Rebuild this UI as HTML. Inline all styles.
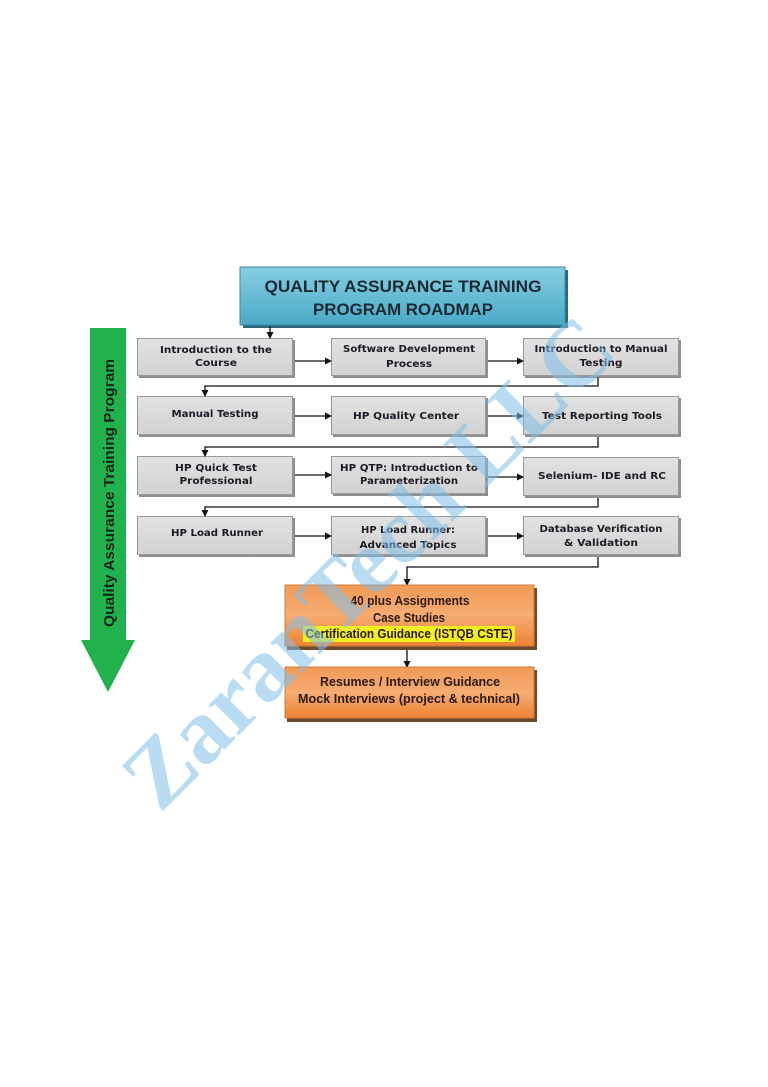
<!DOCTYPE html>
<html><head><meta charset="utf-8"><style>
html,body{margin:0;padding:0;background:#fff;}
svg{display:block;}
</style></head><body>
<svg width="768" height="1087" viewBox="0 0 768 1087" xmlns="http://www.w3.org/2000/svg">
<defs>
<linearGradient id="tg" x1="0" y1="0" x2="0" y2="1"><stop offset="0" stop-color="#86cfe3"/><stop offset="1" stop-color="#4aa9c6"/></linearGradient>
<linearGradient id="gg" x1="0" y1="0" x2="0" y2="1"><stop offset="0" stop-color="#e2e2e2"/><stop offset="1" stop-color="#d2d2d2"/></linearGradient>
<linearGradient id="og" x1="0" y1="0" x2="0" y2="1"><stop offset="0" stop-color="#f29a56"/><stop offset="0.5" stop-color="#f6ac72"/><stop offset="1" stop-color="#ec8434"/></linearGradient>
<marker id="ah" markerWidth="7" markerHeight="7" refX="6" refY="3.5" orient="auto" markerUnits="userSpaceOnUse"><path d="M0,0 L7,3.5 L0,7 z" fill="#111"/></marker>
</defs>

<!-- green arrow -->
<rect x="90" y="328" width="36" height="313" fill="#21b24e"/>
<polygon points="81,640 135,640 108,692" fill="#21b24e"/>
<text transform="translate(114,493) rotate(-90)" text-anchor="middle" font-family="Liberation Sans, sans-serif" font-weight="bold" font-size="15" fill="#10241a" textLength="268" lengthAdjust="spacingAndGlyphs">Quality Assurance Training Program</text>

<!-- title -->
<rect x="243" y="270" width="325" height="58" fill="#2b6a7e"/>
<rect x="240" y="267" width="325" height="58" fill="url(#tg)" stroke="#3d8aa3" stroke-width="1"/>
<text x="403" y="292" text-anchor="middle" font-family="Liberation Sans, sans-serif" font-weight="bold" font-size="17" fill="#1a2a33" textLength="277" lengthAdjust="spacingAndGlyphs">QUALITY ASSURANCE TRAINING</text>
<text x="403" y="315" text-anchor="middle" font-family="Liberation Sans, sans-serif" font-weight="bold" font-size="17" fill="#1a2a33" textLength="180" lengthAdjust="spacingAndGlyphs">PROGRAM ROADMAP</text>

<!-- gray boxes -->
<g fill="#8f8f8f">
<rect x="139" y="340" width="156" height="38"/><rect x="333" y="340" width="155" height="38"/><rect x="525" y="340" width="156" height="38"/>
<rect x="139" y="398" width="156" height="39"/><rect x="333" y="398" width="155" height="39"/><rect x="525" y="398" width="156" height="39"/>
<rect x="139" y="458" width="156" height="39"/><rect x="333" y="458" width="155" height="38"/><rect x="525" y="459" width="156" height="39"/>
<rect x="139" y="518" width="156" height="39"/><rect x="333" y="518" width="155" height="39"/><rect x="525" y="518" width="156" height="39"/>
</g>
<g fill="url(#gg)" stroke="#9a9a9a" stroke-width="1">
<rect x="137.5" y="338.5" width="155" height="37"/><rect x="331.5" y="338.5" width="154" height="37"/><rect x="523.5" y="338.5" width="155" height="37"/>
<rect x="137.5" y="396.5" width="155" height="38"/><rect x="331.5" y="396.5" width="154" height="38"/><rect x="523.5" y="396.5" width="155" height="38"/>
<rect x="137.5" y="456.5" width="155" height="38"/><rect x="331.5" y="456.5" width="154" height="37"/><rect x="523.5" y="457.5" width="155" height="38"/>
<rect x="137.5" y="516.5" width="155" height="38"/><rect x="331.5" y="516.5" width="154" height="38"/><rect x="523.5" y="516.5" width="155" height="38"/>
</g>

<!-- connectors -->
<g stroke="#111" stroke-width="1.3" fill="none">
<line x1="270" y1="326" x2="270" y2="338" marker-end="url(#ah)"/>
<line x1="295" y1="361" x2="331" y2="361" marker-end="url(#ah)"/>
<line x1="488" y1="361" x2="523" y2="361" marker-end="url(#ah)"/>
<line x1="295" y1="416" x2="331" y2="416" marker-end="url(#ah)"/>
<line x1="488" y1="416" x2="523" y2="416" marker-end="url(#ah)"/>
<line x1="295" y1="475" x2="331" y2="475" marker-end="url(#ah)"/>
<line x1="488" y1="477" x2="523" y2="477" marker-end="url(#ah)"/>
<line x1="295" y1="536" x2="331" y2="536" marker-end="url(#ah)"/>
<line x1="488" y1="536" x2="523" y2="536" marker-end="url(#ah)"/>
<polyline points="598,377 598,386 205,386 205,396" marker-end="url(#ah)"/>
<polyline points="598,437 598,447 205,447 205,456" marker-end="url(#ah)"/>
<polyline points="598,498 598,507 205,507 205,516" marker-end="url(#ah)"/>
<polyline points="598,557 598,567 407,567 407,585" marker-end="url(#ah)"/>
<line x1="407" y1="648" x2="407" y2="667" marker-end="url(#ah)"/>
</g>

<!-- gray box text -->
<g font-family="DejaVu Sans, sans-serif" font-weight="bold" font-size="10" fill="#1e1a26" text-anchor="middle">
<text x="216" y="353" textLength="112" lengthAdjust="spacingAndGlyphs">Introduction to the</text>
<text x="216" y="366" textLength="42" lengthAdjust="spacingAndGlyphs">Course</text>
<text x="409" y="352" textLength="132" lengthAdjust="spacingAndGlyphs">Software Development</text>
<text x="409" y="367" textLength="46" lengthAdjust="spacingAndGlyphs">Process</text>
<text x="601" y="352" textLength="133" lengthAdjust="spacingAndGlyphs">Introduction to Manual</text>
<text x="601" y="366" textLength="43" lengthAdjust="spacingAndGlyphs">Testing</text>
<text x="215" y="417" textLength="87" lengthAdjust="spacingAndGlyphs">Manual Testing</text>
<text x="406" y="419" textLength="106" lengthAdjust="spacingAndGlyphs">HP Quality Center</text>
<text x="602" y="419" textLength="120" lengthAdjust="spacingAndGlyphs">Test Reporting Tools</text>
<text x="216" y="471" textLength="82" lengthAdjust="spacingAndGlyphs">HP Quick Test</text>
<text x="216" y="484" textLength="73" lengthAdjust="spacingAndGlyphs">Professional</text>
<text x="409" y="471" textLength="138" lengthAdjust="spacingAndGlyphs">HP QTP: Introduction to</text>
<text x="409" y="484" textLength="98" lengthAdjust="spacingAndGlyphs">Parameterization</text>
<text x="602" y="479" textLength="128" lengthAdjust="spacingAndGlyphs">Selenium- IDE and RC</text>
<text x="217" y="536" textLength="92" lengthAdjust="spacingAndGlyphs">HP Load Runner</text>
<text x="408" y="533" textLength="94" lengthAdjust="spacingAndGlyphs">HP Load Runner:</text>
<text x="408" y="548" textLength="97" lengthAdjust="spacingAndGlyphs">Advanced Topics</text>
<text x="601" y="532" textLength="123" lengthAdjust="spacingAndGlyphs">Database Verification</text>
<text x="601" y="546" textLength="74" lengthAdjust="spacingAndGlyphs">&amp; Validation</text>
</g>

<!-- orange boxes -->
<rect x="287" y="588" width="250" height="62" fill="#6e4a2c"/>
<rect x="285" y="585" width="249" height="61" fill="url(#og)" stroke="#d27a3a" stroke-width="1"/>
<rect x="303" y="626" width="212" height="16" fill="#f4f020"/>
<rect x="287" y="670" width="250" height="52" fill="#6e4a2c"/>
<rect x="285" y="667" width="249" height="51" fill="url(#og)" stroke="#d27a3a" stroke-width="1"/>
<g font-family="Liberation Sans, sans-serif" font-weight="bold" font-size="12.5" fill="#2a1a10" text-anchor="middle">
<text x="410" y="605" textLength="119" lengthAdjust="spacingAndGlyphs">40 plus Assignments</text>
<text x="409" y="622" textLength="72" lengthAdjust="spacingAndGlyphs">Case Studies</text>
<text x="409" y="638" textLength="207" lengthAdjust="spacingAndGlyphs">Certification Guidance (ISTQB CSTE)</text>
<text x="410" y="686" textLength="180" lengthAdjust="spacingAndGlyphs">Resumes / Interview Guidance</text>
<text x="409" y="703" textLength="222" lengthAdjust="spacingAndGlyphs">Mock Interviews (project &amp; technical)</text>
</g>

<!-- watermark -->
<text transform="translate(160,814) rotate(-45)" font-family="Liberation Serif, serif" font-weight="bold" font-size="93" fill="#7fc0ea" fill-opacity="0.55">ZaranTech LLC</text>
</svg>
</body></html>
